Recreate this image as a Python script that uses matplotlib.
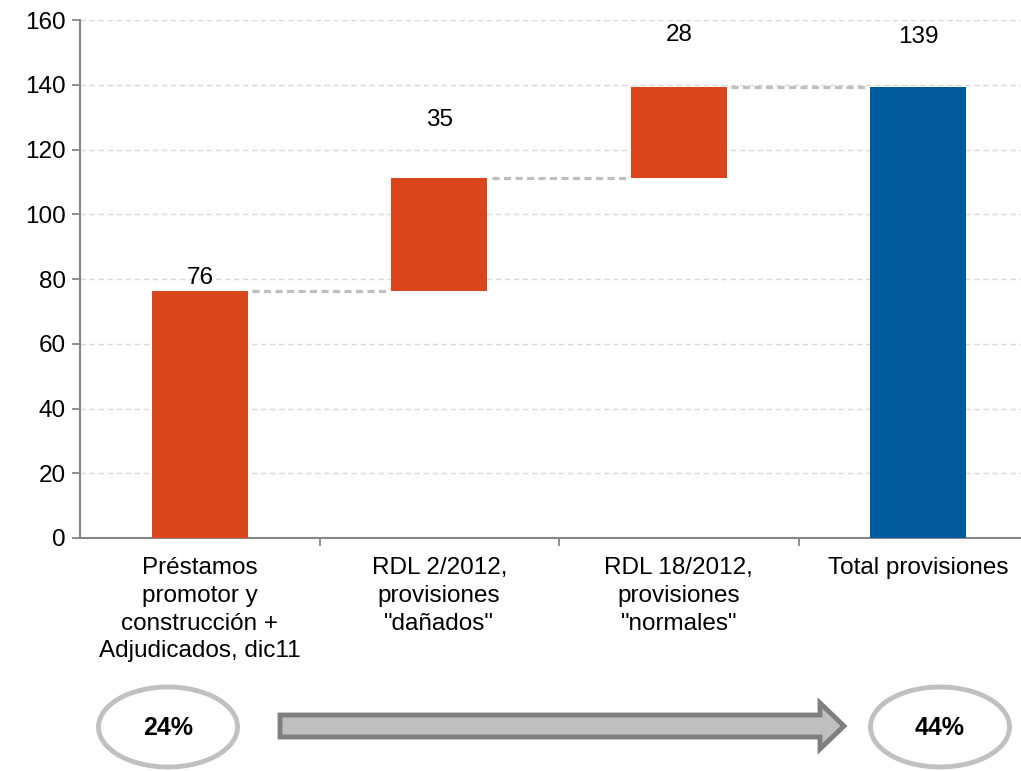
import matplotlib
matplotlib.use("Agg")
import matplotlib.pyplot as plt
from matplotlib.patches import Ellipse, Polygon
import numpy as np

categories = ["Préstamos\npromotor y\nconstrucción +\nAdjudicados, dic11",
              "RDL 2/2012,\nprovisiones\n\"dañados\"",
              "RDL 18/2012,\nprovisiones\n\"normales\"",
              "Total provisiones"]
increments = [76.4, 34.8, 28.2]
total = 139.4
yticks = [0, 20, 40, 60, 80, 100, 120, 140, 160]
ratio_labels = ["24%", "44%"]

ORANGE = "#D9461B"
BLUE = "#005A9C"
W, H = 1021, 771
FS = 17.5

plt.rcParams['font.family'] = ['Liberation Sans', 'DejaVu Sans']
fig = plt.figure(figsize=(W / 100, H / 100), dpi=100)
ax = fig.add_axes([80 / W, 233 / H, 958 / W, 518 / H])

bottoms = np.concatenate([[0], np.cumsum(increments)[:-1]])
tops = np.cumsum(increments)
xs = np.arange(len(categories))
bw = 0.4
ax.bar(xs[:3], increments, bottom=bottoms, width=bw, color=ORANGE, zorder=3)
ax.bar(xs[3], total, width=bw, color=BLUE, zorder=3)

# connectors
levels = list(tops)
for i, lvl in enumerate(levels):
    ax.plot([xs[i] + bw / 2 + 0.02, xs[i + 1] - bw / 2 - 0.02], [lvl, lvl],
            color="#BFBFBF", lw=2.3, ls=(0, (2.2, 1.4)), zorder=2)

# labels
vals = list(increments) + [total]
label_tops = list(tops) + [total]
offsets = [1, 34, 29, 28]
for i, (v, t, off) in enumerate(zip(vals, label_tops, offsets)):
    ax.annotate(f"{round(v)}", (xs[i], t), xytext=(0, off), textcoords="offset points",
                ha="center", va="bottom", fontsize=FS, color="black")

ax.set_xlim(-0.5, 3.5)
ax.set_ylim(0, 160)
ax.set_yticks(yticks)
ax.yaxis.grid(True, color="#D9D9D9", ls=(0, (4, 2.5)), lw=1)
ax.set_axisbelow(True)
ax.tick_params(axis="y", labelsize=FS, length=6, width=1.3, color="#868686", pad=4)
ax.set_xticks(xs)
ax.set_xticklabels(categories, fontsize=FS, linespacing=1.33, va="top")
ax.set_xticks(xs[:-1] + 0.5, minor=True)
ax.tick_params(axis="x", which="major", length=0, pad=14)
ax.tick_params(axis="x", which="minor", length=6, width=1.3, color="#868686")
for s in ["top", "right"]:
    ax.spines[s].set_visible(False)
for s in ["left", "bottom"]:
    ax.spines[s].set_color("#868686")
    ax.spines[s].set_linewidth(1.5)

def fx(x):
    return x / W

def fy(y):
    return 1 - y / H

# circles
for cx, txt in zip([168, 940], ratio_labels):
    e = Ellipse((fx(cx), fy(727)), 139 / W, 80 / H, transform=fig.transFigure,
                facecolor="none", edgecolor="#C0C0C0", lw=3.5)
    fig.add_artist(e)
    fig.text(fx(cx), fy(728), txt, ha="center", va="center", fontsize=18,
             fontweight="bold")

# arrow
pts_px = [(280, 715), (820, 715), (820, 703), (844, 726), (820, 749), (820, 737), (280, 737)]
arrow = Polygon([(fx(x), fy(y)) for x, y in pts_px], closed=True, transform=fig.transFigure,
                facecolor="#BFBFBF", edgecolor="#7F7F7F", lw=3.5, joinstyle="miter")
fig.add_artist(arrow)

fig.savefig("out.png", dpi=100)
